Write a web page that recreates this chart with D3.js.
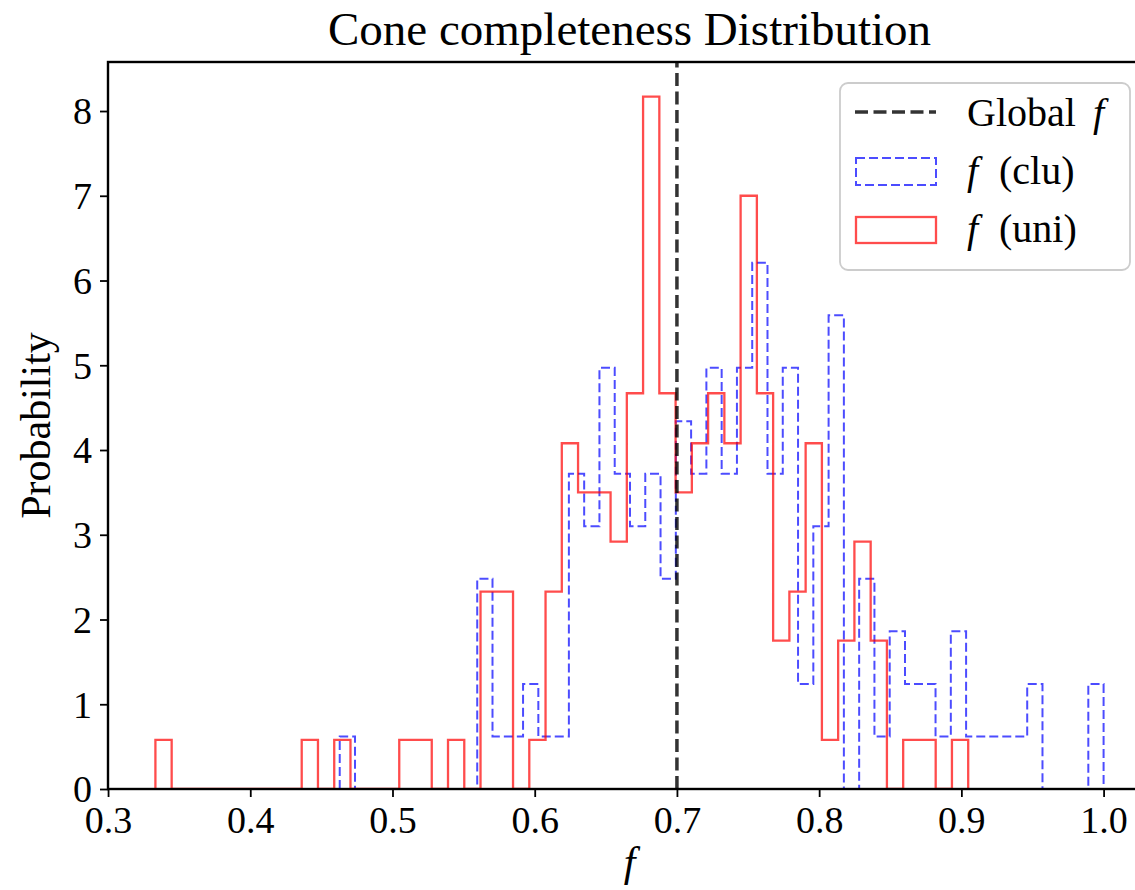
<!DOCTYPE html>
<html>
<head>
<meta charset="utf-8">
<script src="https://cdn.jsdelivr.net/npm/d3@7"></script>
<style>
  html, body { margin: 0; padding: 0; background: #fff; }
  svg { display: block; }
  text { font-family: "Liberation Serif", "DejaVu Serif", serif; fill: #000; }
</style>
</head>
<body>
<svg id="chart" width="1135" height="890"></svg>
<script>
// Histogram of cone completeness f, density-normalised, 50 bins per sample.
const uniBinRange = [0.3333, 0.9048];
const uniDensity = [
  0.58, 0, 0, 0, 0, 0, 0, 0, 0, 0.58,
  0, 0.58, 0, 0, 0, 0.58, 0.58, 0, 0.58, 0,
  2.33, 2.33, 0, 0.58, 2.33, 4.08, 3.50, 3.50, 2.92, 4.67,
  8.17, 4.67, 3.50, 4.08, 4.67, 4.08, 7.00, 4.67, 1.75, 2.33,
  4.08, 0.58, 1.75, 2.92, 1.75, 0, 0.58, 0.58, 0, 0.58
];

const cluBinRange = [0.4629, 1.0];
const cluDensity = [
  0.62, 0, 0, 0, 0, 0, 0, 0, 0, 2.48,
  0.62, 0.62, 1.24, 0.62, 0.62, 3.72, 3.10, 4.97, 3.72, 3.10,
  3.72, 2.48, 4.34, 3.72, 4.97, 3.72, 4.97, 6.21, 3.72, 4.97,
  1.24, 3.10, 5.59, 0, 2.48, 0.62, 1.86, 1.24, 1.24, 0.62,
  1.86, 0.62, 0.62, 0.62, 0.62, 1.24, 0, 0, 0, 1.24
];

const globalF = 0.70;

const xTicks = [0.3, 0.4, 0.5, 0.6, 0.7, 0.8, 0.9, 1.0];
const yTicks = [0, 1, 2, 3, 4, 5, 6, 7, 8];

const titleText = "Cone completeness Distribution";
const yLabelText = "Probability";

// ---- layout ----
const svg = d3.select("#chart");
const plotL = 108, plotT = 62, plotR = 1151, plotB = 789;

function edgesOf(range, n) {
  const w = (range[1] - range[0]) / n;
  return d3.range(n + 1).map(i => range[0] + i * w);
}
const uniEdges = edgesOf(uniBinRange, uniDensity.length);
const cluEdges = edgesOf(cluBinRange, cluDensity.length);

const xMin = Math.min(uniEdges[0], cluEdges[0]);
const xMax = Math.max(uniEdges[uniEdges.length - 1], cluEdges[cluEdges.length - 1]);
const pad = (xMax - xMin) * 0.05;
const x = d3.scaleLinear().domain([xMin - pad, xMax + pad]).range([plotL, plotR]);
const yMax = d3.max(uniDensity.concat(cluDensity)) * 1.05;
const y = d3.scaleLinear().domain([0, yMax]).range([plotB, plotT]);

svg.append("defs").append("clipPath").attr("id", "plot-clip")
  .append("rect").attr("x", plotL).attr("y", plotT).attr("width", plotR - plotL).attr("height", plotB - plotT);

// step outline in the style of an unfilled histogram
function stepPath(edges, vals) {
  const pts = [[edges[0], 0]];
  vals.forEach((v, i) => { pts.push([edges[i], v]); pts.push([edges[i + 1], v]); });
  pts.push([edges[edges.length - 1], 0]);
  return d3.line().x(d => x(d[0])).y(d => y(d[1]))(pts);
}

const plot = svg.append("g").attr("clip-path", "url(#plot-clip)");

plot.append("path")
  .attr("d", stepPath(cluEdges, cluDensity))
  .attr("fill", "none")
  .attr("stroke", "#0000ff").attr("stroke-opacity", 0.7)
  .attr("stroke-width", 2)
  .attr("stroke-dasharray", "9,4");

plot.append("path")
  .attr("d", stepPath(uniEdges, uniDensity))
  .attr("fill", "none")
  .attr("stroke", "#ff0000").attr("stroke-opacity", 0.7)
  .attr("stroke-width", 2.3);

plot.append("line")
  .attr("x1", x(globalF)).attr("x2", x(globalF))
  .attr("y1", plotB).attr("y2", plotT)
  .attr("stroke", "#000").attr("stroke-opacity", 0.8)
  .attr("stroke-width", 3.5)
  .attr("stroke-dasharray", "13,5.5");

// ---- axes ----
const xAxis = d3.axisBottom(x).tickValues(xTicks).tickFormat(d3.format(".1f"))
  .tickSizeInner(8).tickSizeOuter(0).tickPadding(9);
const yAxis = d3.axisLeft(y).tickValues(yTicks).tickFormat(d3.format("d"))
  .tickSizeInner(8).tickSizeOuter(0).tickPadding(8);

const gx = svg.append("g").attr("transform", `translate(0,${plotB})`).call(xAxis);
const gy = svg.append("g").attr("transform", `translate(${plotL},0)`).call(yAxis);
[gx, gy].forEach(g => {
  g.select(".domain").remove();
  g.selectAll(".tick line").attr("stroke", "#000").attr("stroke-width", 1.8);
  g.selectAll(".tick text")
    .style("font-family", '"Liberation Serif", serif')
    .style("font-size", "38px").attr("fill", "#000");
});
gx.selectAll(".tick text").attr("dy", "0.72em");
gy.selectAll(".tick text").attr("dy", "0.34em");

// spines, drawn over the histogram outlines
svg.append("rect")
  .attr("x", plotL).attr("y", plotT).attr("width", plotR - plotL).attr("height", plotB - plotT)
  .attr("fill", "none").attr("stroke", "#000").attr("stroke-width", 2.4);

// ---- labels ----
svg.append("text").attr("x", (plotL + plotR) / 2).attr("y", 45)
  .attr("text-anchor", "middle").style("font-size", "47px").text(titleText);

svg.append("text").attr("x", (plotL + plotR) / 2).attr("y", 876)
  .attr("text-anchor", "middle").style("font-size", "42px").style("font-style", "italic").text("f");

svg.append("text")
  .attr("transform", `translate(50,${(plotT + plotB) / 2}) rotate(-90)`)
  .attr("text-anchor", "middle").style("font-size", "42px").text(yLabelText);

// ---- legend ----
const lg = svg.append("g");
lg.append("rect").attr("x", 840).attr("y", 83).attr("width", 290).attr("height", 187)
  .attr("rx", 8).attr("fill", "#fff").attr("fill-opacity", 0.8)
  .attr("stroke", "#cccccc").attr("stroke-width", 1.8);

lg.append("line").attr("x1", 855).attr("x2", 936).attr("y1", 112).attr("y2", 112)
  .attr("stroke", "#000").attr("stroke-opacity", 0.8).attr("stroke-width", 3.5)
  .attr("stroke-dasharray", "13,5.5");
lg.append("rect").attr("x", 856).attr("y", 158).attr("width", 80).attr("height", 27)
  .attr("fill", "none").attr("stroke", "#0000ff").attr("stroke-opacity", 0.7)
  .attr("stroke-width", 2).attr("stroke-dasharray", "9,4");
lg.append("rect").attr("x", 856).attr("y", 217).attr("width", 80).attr("height", 26)
  .attr("fill", "none").attr("stroke", "#ff0000").attr("stroke-opacity", 0.7)
  .attr("stroke-width", 2.3);

// each row: text pieces with their own start position and style
const legendRows = [
  { y: 126, parts: [["Global", "normal", 967], ["f", "italic", 1093]] },
  { y: 184, parts: [["f", "italic", 967], ["(clu)", "normal", 999]] },
  { y: 242, parts: [["f", "italic", 967], ["(uni)", "normal", 999]] }
];
legendRows.forEach(r => {
  const t = lg.append("text").attr("y", r.y).style("font-size", "40px");
  r.parts.forEach(p => t.append("tspan").attr("x", p[2]).style("font-style", p[1]).text(p[0]));
});
</script>
</body>
</html>
